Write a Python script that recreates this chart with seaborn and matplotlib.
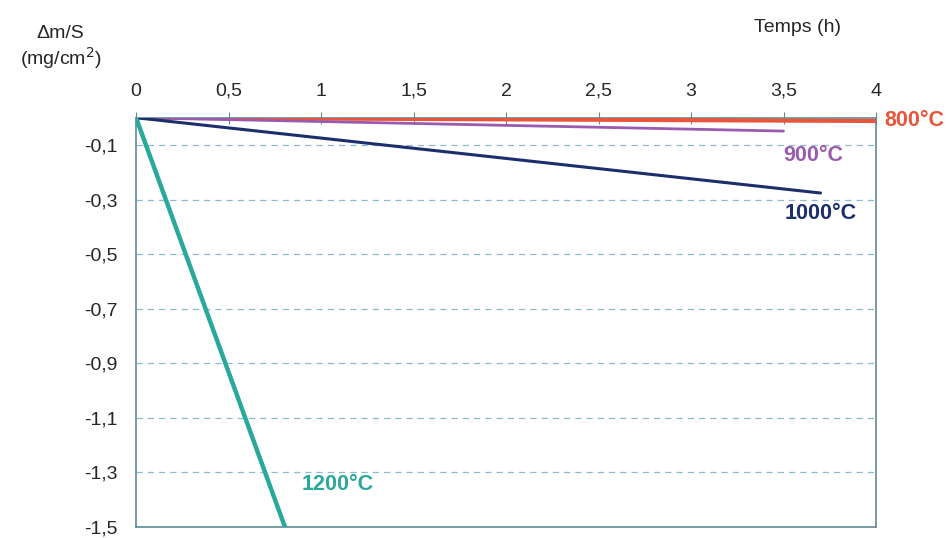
import pandas as pd
import matplotlib.pyplot as plt
import seaborn as sns
from matplotlib.ticker import FuncFormatter

# temps (h) et variation de masse (mg/cm2) pour chaque temperature
temps_800 = [0, 4.0]
dm_800 = [0, -0.012]
temps_900 = [0, 3.5]
dm_900 = [0, -0.049]
temps_1000 = [0, 3.7]
dm_1000 = [0, -0.276]
temps_1200 = [0, 0.805]
dm_1200 = [0, -1.5]

series = ['800°C', '900°C', '1000°C', '1200°C']
colors = ['#E8553A', '#9A5BAE', '#1C2E6B', '#2AA89B']
x_ticks = [0, 0.5, 1, 1.5, 2, 2.5, 3, 3.5, 4]
y_ticks = [-0.1, -0.3, -0.5, -0.7, -0.9, -1.1, -1.3, -1.5]

df = pd.concat([
    pd.DataFrame({'Temps': temps_800, 'dm': dm_800, 'T': series[0]}),
    pd.DataFrame({'Temps': temps_900, 'dm': dm_900, 'T': series[1]}),
    pd.DataFrame({'Temps': temps_1000, 'dm': dm_1000, 'T': series[2]}),
    pd.DataFrame({'Temps': temps_1200, 'dm': dm_1200, 'T': series[3]}),
])

sns.set_style('white')
plt.rcParams['font.family'] = ['Liberation Sans', 'DejaVu Sans']

fig = plt.figure(figsize=(9.46, 5.38), dpi=100)
ax = fig.add_axes([0.1438, 0.0204, 0.7822, 0.7608])

for y in y_ticks[:-1]:
    ax.axhline(y, color='#8FB9CE', lw=0.9, ls=(0, (5, 4)), zorder=1)

sns.lineplot(data=df, x='Temps', y='dm', hue='T', palette=dict(zip(series, colors)),
             legend=False, ax=ax, zorder=3)
widths = {'800°C': 3.0, '900°C': 2.0, '1000°C': 2.2, '1200°C': 3.2}
for line, s in zip(ax.get_lines()[-4:], series):
    line.set_linewidth(widths[s])

ax.set_xlim(0, 4)
ax.set_ylim(-1.5, 0)
ax.xaxis.tick_top()
ax.set_xticks(x_ticks)
ax.set_yticks(y_ticks)
fmt = FuncFormatter(lambda v, p: ('%g' % v).replace('.', ','))
ax.xaxis.set_major_formatter(fmt)
ax.yaxis.set_major_formatter(fmt)
ax.tick_params(axis='x', direction='inout', length=8, pad=9, labelsize=14, color='#5E8B95')
ax.tick_params(axis='y', direction='out', length=6, pad=7, labelsize=14, color='#5E8B95')
for sp in ax.spines.values():
    sp.set_color('#5E8B95')
    sp.set_linewidth(1.2)
ax.set_xlabel('')
ax.set_ylabel('')

fig.text(0.064, 0.91, 'Δm/S\n(mg/cm$^2$)', ha='center', va='center', fontsize=14, linespacing=1.15)
fig.text(0.843, 0.948, 'Temps (h)', ha='center', va='center', fontsize=14)

ax.text(4.21, -0.012, '800°C', color=colors[0], fontsize=15.5, fontweight='bold', ha='center', va='center')
ax.text(3.66, -0.14, '900°C', color=colors[1], fontsize=15.5, fontweight='bold', ha='center', va='center')
ax.text(3.70, -0.35, '1000°C', color=colors[2], fontsize=15.5, fontweight='bold', ha='center', va='center')
ax.text(1.09, -1.345, '1200°C', color=colors[3], fontsize=15.5, fontweight='bold', ha='center', va='center')

fig.savefig('out.png', dpi=100)
